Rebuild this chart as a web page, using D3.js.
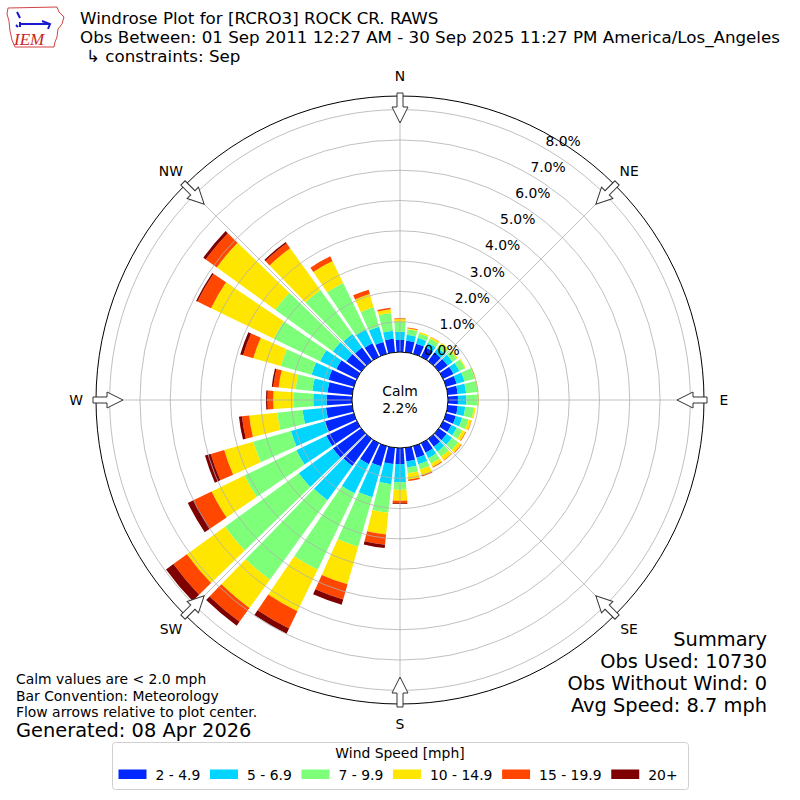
<!DOCTYPE html>
<html>
<head>
<meta charset="utf-8">
<script src="https://cdn.jsdelivr.net/npm/d3@7"></script>
<style>
  body { margin: 0; background: #fff; }
  svg { display: block; font-family: "DejaVu Sans", sans-serif; }
</style>
</head>
<body>
<div id="chart"></div>
<script>
// direction bins (deg, meteorological, 10 deg wide)
const directions = [0, 10, 20, 30, 40, 50, 60, 70, 80, 90, 100, 110, 120, 130, 140, 150, 160, 170,
                    180, 190, 200, 210, 220, 230, 240, 250, 260, 270, 280, 290, 300, 310, 320, 330, 340, 350];

const speedBins = ["2 - 4.9", "5 - 6.9", "7 - 9.9", "10 - 14.9", "15 - 19.9", "20+"];
const binColors = ["#0028ff", "#00d4ff", "#7dff7a", "#ffe600", "#ff4700", "#7f0000"];

// percent of obs per direction, one array per speed bin
const pct2to5 = [0.40, 0.38, 0.35, 0.35, 0.35, 0.36, 0.38, 0.36, 0.33, 0.33, 0.33, 0.33, 0.30, 0.32, 0.32, 0.35, 0.40, 0.45,
                 0.53, 0.54, 0.69, 0.77, 1.10, 1.15, 1.12, 0.99, 0.87, 0.84, 0.82, 0.87, 0.75, 0.60, 0.55, 0.50, 0.41, 0.45];
const pct5to7 = [0.27, 0.20, 0.20, 0.17, 0.18, 0.20, 0.22, 0.27, 0.28, 0.28, 0.25, 0.22, 0.20, 0.22, 0.20, 0.20, 0.22, 0.20,
                 0.60, 0.67, 1.06, 1.07, 1.40, 1.39, 1.10, 1.17, 0.78, 0.44, 0.50, 0.58, 0.60, 0.55, 0.55, 0.50, 0.52, 0.26];
const pct7to10 = [0.33, 0.18, 0.15, 0.15, 0.15, 0.17, 0.20, 0.35, 0.38, 0.37, 0.28, 0.22, 0.20, 0.25, 0.20, 0.20, 0.18, 0.20,
                  0.25, 0.95, 1.70, 2.80, 3.24, 3.01, 1.91, 1.29, 0.84, 0.66, 0.56, 1.06, 1.70, 2.35, 1.80, 1.71, 0.67, 0.59];
const pct10to15 = [0.09, 0.04, 0.05, 0.06, 0.07, 0.05, 0.03, 0.04, 0.03, 0.04, 0.06, 0.10, 0.12, 0.12, 0.15, 0.12, 0.20, 0.20,
                   0.36, 0.72, 1.29, 1.53, 1.15, 1.55, 1.20, 1.00, 0.93, 0.66, 0.56, 0.94, 2.30, 2.38, 1.70, 0.81, 0.45, 0.13];
const pct15to20 = [0.02, 0.02, 0.00, 0.01, 0.00, 0.00, 0.00, 0.00, 0.00, 0.00, 0.00, 0.01, 0.02, 0.02, 0.02, 0.03, 0.04, 0.05,
                   0.08, 0.34, 0.52, 0.63, 0.56, 0.55, 0.65, 0.46, 0.24, 0.19, 0.18, 0.35, 0.50, 0.45, 0.20, 0.17, 0.15, 0.05];
const pct20up = [0.00, 0.00, 0.00, 0.00, 0.00, 0.00, 0.00, 0.00, 0.00, 0.00, 0.00, 0.00, 0.00, 0.00, 0.00, 0.00, 0.00, 0.00,
                 0.03, 0.11, 0.18, 0.19, 0.16, 0.30, 0.22, 0.20, 0.10, 0.05, 0.05, 0.10, 0.05, 0.10, 0.05, 0.00, 0.00, 0.00];

const calmPct = 2.2;
const ringTicks = [0, 1, 2, 3, 4, 5, 6, 7, 8];
const compassNames = ["N", "NE", "E", "SE", "S", "SW", "W", "NW"];
const compassAngles = [0, 45, 90, 135, 180, 225, 270, 315];

const titleLines = ["Windrose Plot for [RCRO3] ROCK CR. RAWS",
                    "Obs Between: 01 Sep 2011 12:27 AM - 30 Sep 2025 11:27 PM America/Los_Angeles",
                    "\u21b3 constraints: Sep"];
const noteLines = ["Calm values are < 2.0 mph", "Bar Convention: Meteorology", "Flow arrows relative to plot center."];
const generatedLine = "Generated: 08 Apr 2026";
const summaryLines = ["Summary", "Obs Used: 10730", "Obs Without Wind: 0", "Avg Speed: 8.7 mph"];

const width = 800, height = 800;
const cx = 400, cy = 400;
const small = 13.9, big = 19.4, titleSize = 16.7;   // 10pt / 14pt / 12pt at 100 dpi

const svg = d3.select("#chart").append("svg")
    .attr("width", width)
    .attr("height", height)
    .style("background", "#fff");

const r = d3.scaleLinear().domain([0, 8.45]).range([48, 304]);
const ang = d3.scaleLinear().domain([0, 360]).range([0, 2 * Math.PI]);

// stack the bins
const binKeys = ["b0", "b1", "b2", "b3", "b4", "b5"];
const binArrays = [pct2to5, pct5to7, pct7to10, pct10to15, pct15to20, pct20up];
const rows = directions.map((dir, i) => {
    const row = { dir: dir };
    binKeys.forEach((k, j) => { row[k] = binArrays[j][i]; });
    return row;
});
const stacked = d3.stack().keys(binKeys)(rows);

const plot = svg.append("g").attr("transform", `translate(${cx},${cy})`);

const halfWidth = 4.1;
const arc = d3.arc()
    .innerRadius(d => r(d[0]))
    .outerRadius(d => r(d[1]))
    .startAngle(d => ang(d.data.dir - halfWidth))
    .endAngle(d => ang(d.data.dir + halfWidth));

plot.selectAll("g.bin")
    .data(stacked)
    .enter().append("g")
    .attr("class", "bin")
    .attr("fill", (d, i) => binColors[i])
    .selectAll("path")
    .data(d => d.filter(s => s[1] - s[0] > 0))
    .enter().append("path")
    .attr("d", arc);

// grid on top of bars
plot.selectAll("circle.ring")
    .data(ringTicks.slice(1))
    .enter().append("circle")
    .attr("class", "ring")
    .attr("r", d => r(d))
    .attr("fill", "none")
    .attr("stroke", "#b0b0b0")
    .attr("stroke-width", 0.8);

function polar(rad, deg) {
    const a = ang(deg);
    return [rad * Math.sin(a), -rad * Math.cos(a)];
}

plot.selectAll("line.spoke")
    .data(compassAngles)
    .enter().append("line")
    .attr("class", "spoke")
    .attr("x1", d => polar(r(0), d)[0])
    .attr("y1", d => polar(r(0), d)[1])
    .attr("x2", d => polar(r.range()[1], d)[0])
    .attr("y2", d => polar(r.range()[1], d)[1])
    .attr("stroke", "#b0b0b0")
    .attr("stroke-width", 0.8);

// outer frame
plot.append("circle")
    .attr("r", r.range()[1])
    .attr("fill", "none")
    .attr("stroke", "#000")
    .attr("stroke-width", 1);

// radial tick labels
plot.selectAll("text.rlabel")
    .data(ringTicks)
    .enter().append("text")
    .attr("class", "rlabel")
    .attr("x", d => polar(r(d), 30)[0] + 18)
    .attr("y", d => polar(r(d), 30)[1] - 8)
    .attr("text-anchor", "middle")
    .attr("dominant-baseline", "central")
    .attr("font-size", small)
    .text(d => d.toFixed(1) + "%");

// calm circle
plot.append("circle")
    .attr("r", r(0))
    .attr("fill", "#fff")
    .attr("stroke", "#000")
    .attr("stroke-width", 1);
plot.append("text")
    .attr("y", -9)
    .attr("text-anchor", "middle")
    .attr("dominant-baseline", "central")
    .attr("font-size", small)
    .text("Calm");
plot.append("text")
    .attr("y", 8)
    .attr("text-anchor", "middle")
    .attr("dominant-baseline", "central")
    .attr("font-size", small)
    .text(calmPct.toFixed(1) + "%");

// compass arrows pointing at the center
const R = r.range()[1];
const arrowPts = [[-3, -(R + 3)], [3, -(R + 3)], [3, -(R - 11)], [8, -(R - 11)],
                  [0, -(R - 27)], [-8, -(R - 11)], [-3, -(R - 11)]];
plot.selectAll("path.arrow")
    .data(compassAngles)
    .enter().append("path")
    .attr("class", "arrow")
    .attr("d", "M" + arrowPts.map(p => p.join(",")).join("L") + "Z")
    .attr("transform", d => `rotate(${d})`)
    .attr("fill", "#fff")
    .attr("stroke", "#333")
    .attr("stroke-width", 1);

plot.selectAll("text.compass")
    .data(compassNames)
    .enter().append("text")
    .attr("class", "compass")
    .attr("x", (d, i) => polar(324, compassAngles[i])[0])
    .attr("y", (d, i) => polar(324, compassAngles[i])[1])
    .attr("text-anchor", "middle")
    .attr("dominant-baseline", "central")
    .attr("font-size", small)
    .text(d => d);

// logo (rough IEM mark)
const logo = svg.append("g");
logo.append("path")
    .attr("d", "M8,8 L57,7 L59,12 L64,17 L62,24 L58,29 L57,37 L55,42 L54,47 L15,47 L12,40 L10,31 L9,21 L7,14 Z")
    .attr("fill", "none")
    .attr("stroke", "#d24444")
    .attr("stroke-width", 1);
logo.append("path")
    .attr("d", "M19,24 L50,24 M20,22 L20,27 M42,21 L50,24 L48,29 M17,12 L20,18 M16,25 L18,27")
    .attr("fill", "none")
    .attr("stroke", "#1a1ad0")
    .attr("stroke-width", 2);
logo.append("text")
    .attr("x", 14).attr("y", 45)
    .attr("font-family", "Liberation Serif, serif")
    .attr("font-style", "italic")
    .attr("font-size", 17)
    .attr("fill", "#cc2222")
    .text("IEM");

// titles
svg.selectAll("text.title")
    .data(titleLines)
    .enter().append("text")
    .attr("class", "title")
    .attr("x", (d, i) => i === 2 ? 86 : 80)
    .attr("y", (d, i) => 23.5 + i * 19)
    .attr("font-size", titleSize)
    .text(d => d);

// notes bottom left
svg.selectAll("text.note")
    .data(noteLines)
    .enter().append("text")
    .attr("class", "note")
    .attr("x", 16)
    .attr("y", (d, i) => 684 + i * 16.5)
    .attr("font-size", small)
    .text(d => d);
svg.append("text")
    .attr("x", 16).attr("y", 737)
    .attr("font-size", big)
    .text(generatedLine);

// summary bottom right
svg.selectAll("text.summary")
    .data(summaryLines)
    .enter().append("text")
    .attr("class", "summary")
    .attr("x", 767)
    .attr("y", (d, i) => 646 + i * 22)
    .attr("text-anchor", "end")
    .attr("font-size", big)
    .text(d => d);

// legend
const legend = svg.append("g");
legend.append("rect")
    .attr("x", 112.5).attr("y", 742.5)
    .attr("width", 576).attr("height", 47)
    .attr("rx", 3)
    .attr("fill", "#fff")
    .attr("stroke", "#d0d0d0");
legend.append("text")
    .attr("x", 400).attr("y", 758)
    .attr("text-anchor", "middle")
    .attr("font-size", small)
    .text("Wind Speed [mph]");

const entry = legend.selectAll("g.entry")
    .data(speedBins)
    .enter().append("g")
    .attr("class", "entry");
entry.append("rect")
    .attr("width", 28).attr("height", 9.5)
    .attr("fill", (d, i) => binColors[i]);
entry.append("text")
    .attr("x", 37).attr("y", 10)
    .attr("font-size", small)
    .text(d => d);

// lay entries out left to right by their text width
let lx = 118.5;
entry.each(function () {
    const g = d3.select(this);
    g.attr("transform", `translate(${lx},769.5)`);
    lx += 37 + g.select("text").node().getComputedTextLength() + 9.7;
});
</script>
</body>
</html>
